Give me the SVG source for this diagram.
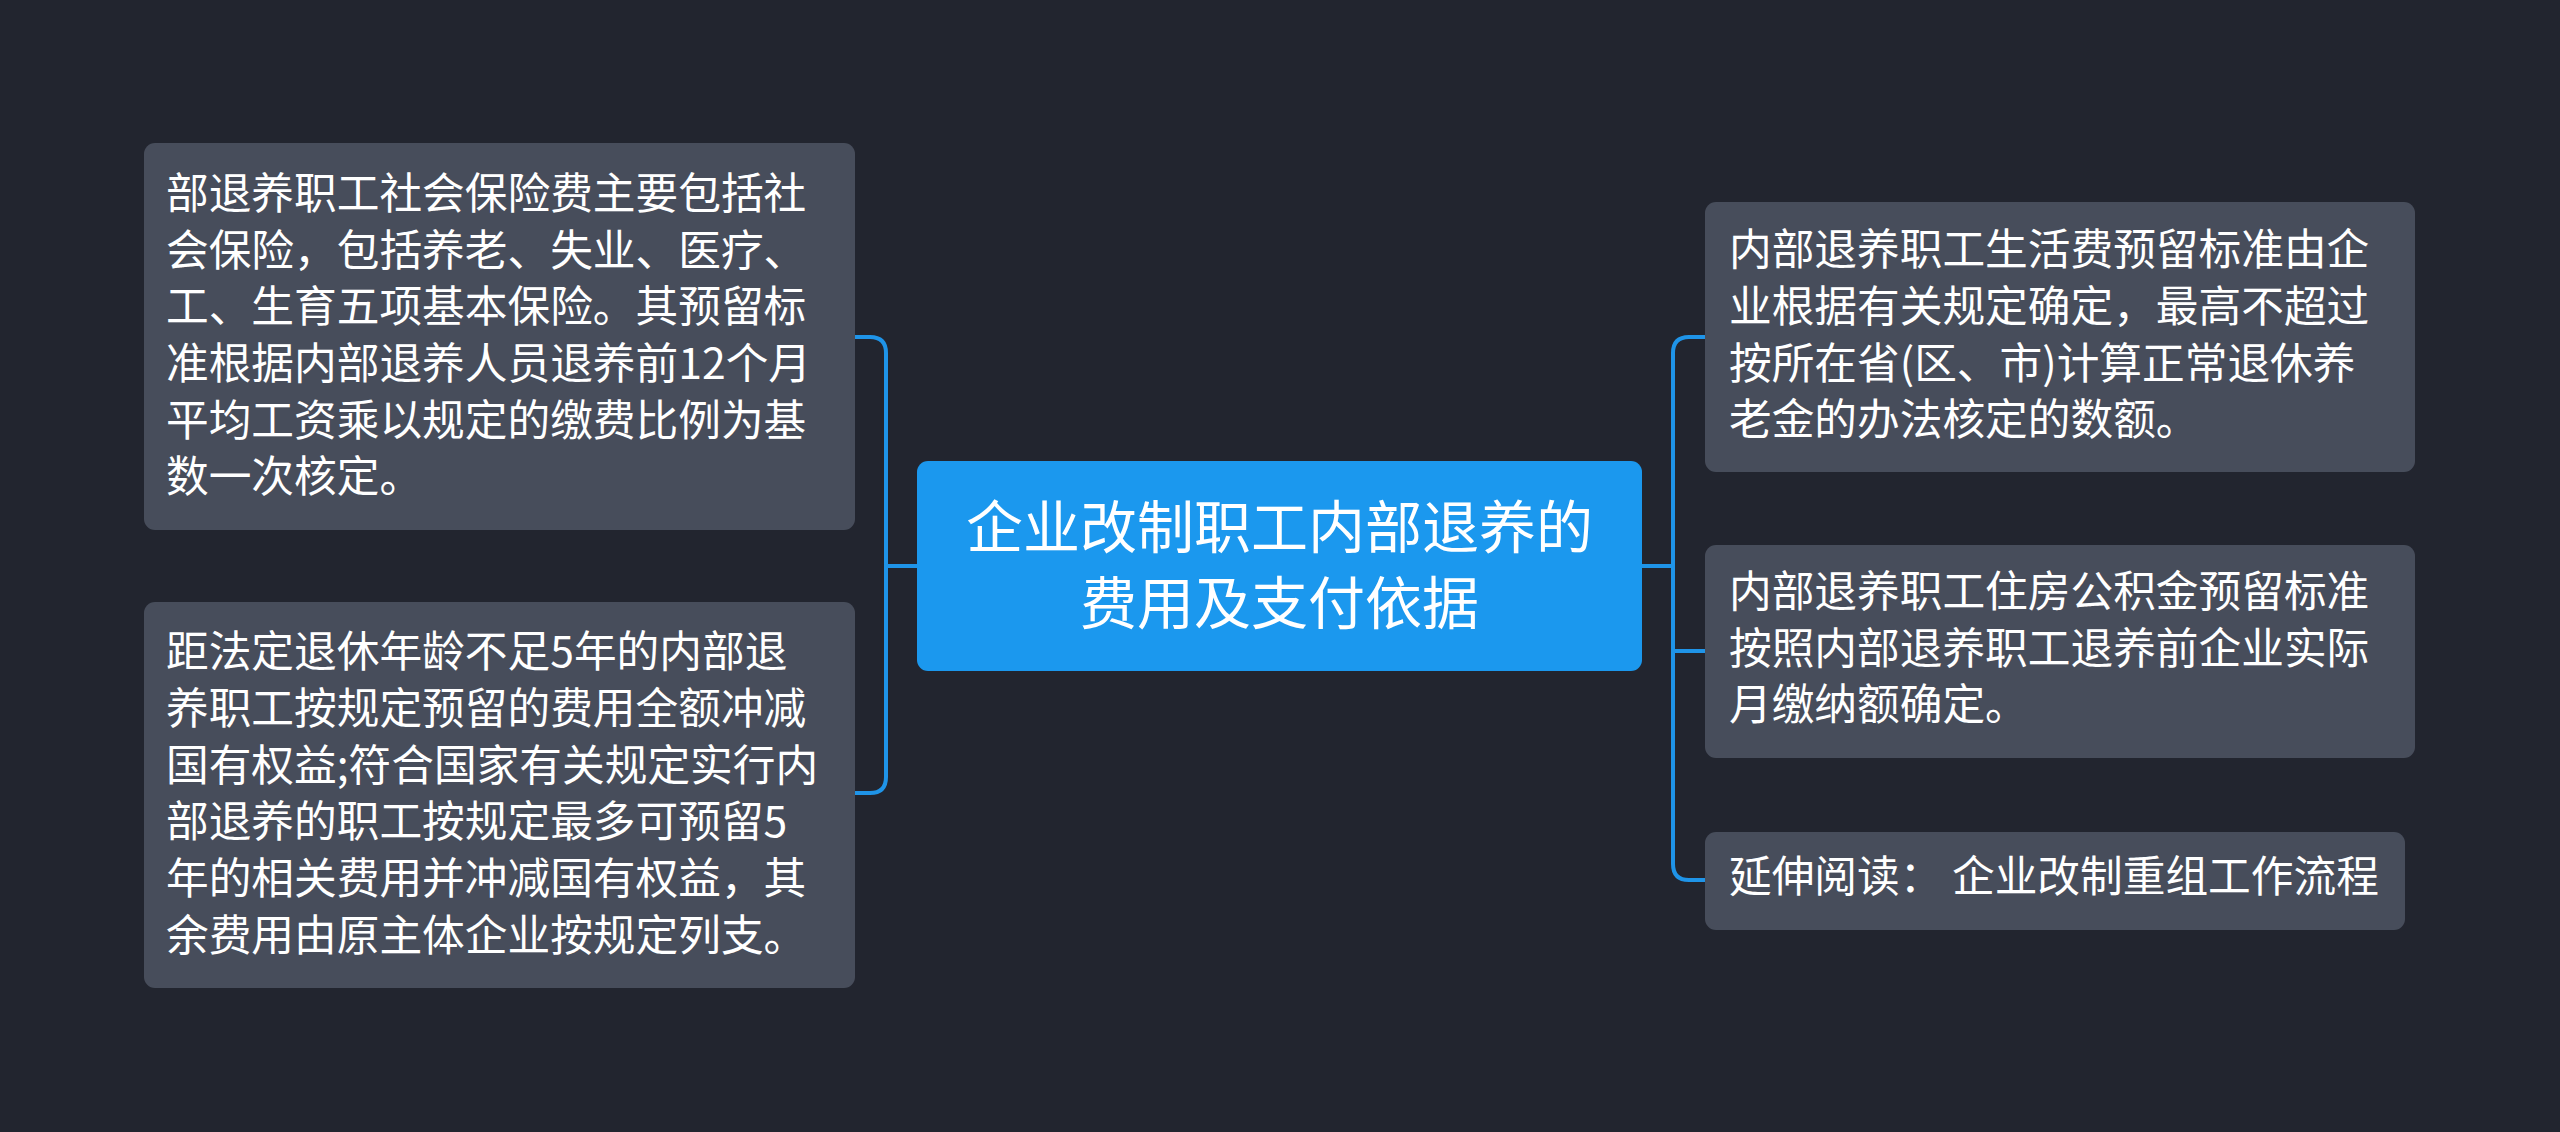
<svg xmlns="http://www.w3.org/2000/svg" width="2560" height="1132" viewBox="0 0 2560 1132">
<style>
.bg{fill:#22252f}
.node{fill:#474d5b}
.root{fill:#1b98ee}
.t{font-family:"Noto Sans CJK SC","Noto Sans",sans-serif;font-size:42.7px;fill:#ffffff}
.rt{font-family:"Noto Sans CJK SC","Noto Sans",sans-serif;font-size:57px;fill:#ffffff;text-anchor:middle}
.c{fill:none;stroke:#1f94e8;stroke-width:4;stroke-linecap:round;stroke-linejoin:round}
</style>
<rect class="bg" x="0" y="0" width="2560" height="1132"/>
<g id="connectors">
<path class="c" d="M855,337 H870 Q886,337 886,353 V777 Q886,793 870,793 H855"/>
<path class="c" d="M886,566 H917"/>
<path class="c" d="M1642,566 H1673"/>
<path class="c" d="M1705,337 H1689 Q1673,337 1673,353 V864 Q1673,880 1689,880 H1705"/>
<path class="c" d="M1673,651 H1705"/>
</g>
<g id="root">
<rect class="root" x="917" y="461" width="725" height="210" rx="11"/>
<text class="rt" x="1279.5" y="548">企业改制职工内部退养的</text>
<text class="rt" x="1279.5" y="624">费用及支付依据</text>
</g>
<g id="node-left-1">
<rect class="node" x="144" y="143" width="711" height="387" rx="11"/>
<text class="t" x="166" y="209">部退养职工社会保险费主要包括社</text>
<text class="t" x="166" y="265.7">会保险，包括养老、失业、医疗、</text>
<text class="t" x="166" y="322.3">工、生育五项基本保险。其预留标</text>
<text class="t" x="166" y="379">准根据内部退养人员退养前12个月</text>
<text class="t" x="166" y="435.7">平均工资乘以规定的缴费比例为基</text>
<text class="t" x="166" y="492.3">数一次核定。</text>
</g>
<g id="node-left-2">
<rect class="node" x="144" y="602" width="711" height="386" rx="11"/>
<text class="t" x="166" y="667">距法定退休年龄不足5年的内部退</text>
<text class="t" x="166" y="724">养职工按规定预留的费用全额冲减</text>
<text class="t" x="166" y="780.5">国有权益;符合国家有关规定实行内</text>
<text class="t" x="166" y="837">部退养的职工按规定最多可预留5</text>
<text class="t" x="166" y="894">年的相关费用并冲减国有权益，其</text>
<text class="t" x="166" y="950.5">余费用由原主体企业按规定列支。</text>
</g>
<g id="node-right-1">
<rect class="node" x="1705" y="202" width="710" height="270" rx="11"/>
<text class="t" x="1729" y="265">内部退养职工生活费预留标准由企</text>
<text class="t" x="1729" y="322">业根据有关规定确定，最高不超过</text>
<text class="t" x="1729" y="379">按所在省(区、市)计算正常退休养</text>
<text class="t" x="1729" y="435">老金的办法核定的数额。</text>
</g>
<g id="node-right-2">
<rect class="node" x="1705" y="545" width="710" height="213" rx="11"/>
<text class="t" x="1729" y="607">内部退养职工住房公积金预留标准</text>
<text class="t" x="1729" y="664">按照内部退养职工退养前企业实际</text>
<text class="t" x="1729" y="720">月缴纳额确定。</text>
</g>
<g id="node-right-3">
<rect class="node" x="1705" y="832" width="700" height="98" rx="11"/>
<text class="t" x="1729" y="892">延伸阅读：  企业改制重组工作流程</text>
</g>
</svg>
